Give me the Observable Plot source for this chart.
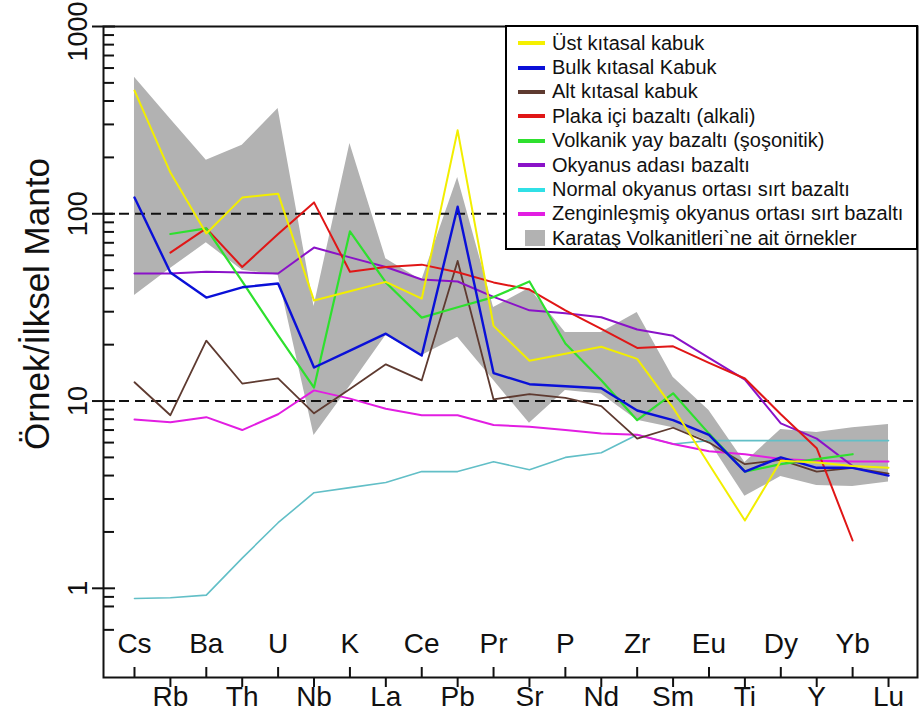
<!DOCTYPE html>
<html>
<head>
<meta charset="utf-8">
<script src="https://cdn.jsdelivr.net/npm/d3@7"></script>
<script src="https://cdn.jsdelivr.net/npm/@observablehq/plot@0.6"></script>
<style>
  body { margin: 0; background: #fff; font-family: Arial, "Liberation Sans", sans-serif; }
  #wrap { position: relative; width: 920px; height: 722px; overflow: hidden; }
  #wrap svg { overflow: visible; }
  #legend {
    position: absolute; left: 505px; top: 25px; width: 413px; height: 225px;
    box-sizing: border-box; border: 2px solid #000; background: #fff;
    padding-top: 4px; font-size: 20px; color: #111;
  }
  .row { display: flex; align-items: center; height: 24.4px; white-space: nowrap; }
  .sw { display: inline-block; width: 27px; height: 4px; margin-left: 11px; margin-right: 7px; }
  .swg { display: inline-block; width: 20px; height: 16px; margin-left: 18px; margin-right: 7px; background: #b2b2b2; }
</style>
</head>
<body>
<div id="wrap"></div>
<script>
// ---- data ----
const elements = ["Cs","Rb","Ba","Th","U","Nb","K","La","Ce","Pb","Pr","Sr","P","Nd","Zr","Sm","Eu","Ti","Dy","Y","Yb","Lu"];

const ustKabuk    = [455,166,78.5,122,128,34.4,38.6,43.3,35.2,279,25.2,16.4,17.9,19.5,16.8,9.2,4.6,2.3,4.8,4.7,4.5,4.4];
const bulkKabuk   = [122,48.6,35.7,40.5,42.4,15.1,18.6,22.9,17.5,109,14.1,12.3,12.0,11.7,8.9,7.9,6.6,4.2,5.0,4.4,4.4,4.0];
const altKabuk    = [12.6,8.4,21,12.4,13.2,8.6,11.6,15.7,12.9,56,10.2,10.9,10.4,9.4,6.3,7.2,6.0,4.6,4.85,4.2,4.4,4.1];
const plakaIci    = [null,62,83.5,52,78,115,49,52,53.5,48.7,43,39.4,30.5,24.3,19.2,19.6,16,13.2,8.5,5.6,1.8,null];
const volkanikYay = [null,78,83.5,43.5,22.4,11.8,80.5,43,27.9,31.7,35.9,43.5,20.3,12.9,7.9,11,6.7,4.2,4.6,4.9,5.2,null];
const okyanusAda  = [48,48,49,48.5,48,66,58.5,52,44.6,43.5,36,30.5,29.4,28,24.1,22.3,17,13,7.6,6.3,4.5,null];
const nMorb       = [0.883,0.89,0.92,1.45,2.24,3.24,3.45,3.67,4.2,4.2,4.74,4.3,5.0,5.3,6.6,5.9,6.15,6.15,6.15,6.15,6.15,6.15];
const eMorb       = [7.97,7.7,8.2,7.0,8.5,11.4,10.3,9.1,8.4,8.4,7.45,7.3,7.0,6.7,6.6,5.9,5.4,5.2,4.9,4.8,4.75,4.75];
const bandUpper   = [535,321,193,232,365,32,237,57.6,44,156,31.6,40,23.2,23.2,29.7,13.4,8.9,4.7,7.05,6.8,7.2,7.5];
const bandLower   = [36.6,51,70,50,47,6.55,12,22.4,17.5,21.9,12.9,7.6,11.4,10.9,7.9,7.2,6.1,3.1,3.95,3.54,3.5,3.7];

const legendNames = [
  "Üst kıtasal kabuk",
  "Bulk kıtasal Kabuk",
  "Alt kıtasal kabuk",
  "Plaka içi bazaltı (alkali)",
  "Volkanik yay bazaltı (şoşonitik)",
  "Okyanus adası bazaltı",
  "Normal okyanus ortası sırt bazaltı",
  "Zenginleşmiş okyanus ortası sırt bazaltı"
];
const bandName = "Karataş Volkanitleri`ne ait örnekler";
const yTitle = "Örnek/İlksel Manto";
const lineColors = ["#f2ee00","#0a10d8","#5e3a30","#e01616","#2ee02e","#8a12c8","#62bfc7","#e21ee2"];
const legendColors = ["#f5f000","#0a10d8","#5e3a30","#e01616","#2ee02e","#8a12c8","#30e0e6","#e21ee2"];
const lineWidths = [2, 2.4, 1.8, 2, 2.2, 2, 1.6, 2];
const seriesValues = [ustKabuk, bulkKabuk, altKabuk, plakaIci, volkanikYay, okyanusAda, nMorb, eMorb];
const drawOrder = [6, 7, 2, 5, 3, 4, 1, 0];

const yTickLabels = [1, 10, 100, 1000];
const minorTicks = [0.6, 0.8, 0.9, 2,3,4,5,6,7,8,9, 20,30,40,50,60,70,80,90, 200,300,400,500,600,700,800,900];
const dashedLevels = [10, 100];

// ---- chart ----
const W = 920, H = 722;
const mL = 103, mR = 3, mT = 26, mB = 45;
const frameH = H - mT - mB, frameW = W - mL - mR;

const idx = elements.map((_, i) => i);
const topIdx = idx.filter(i => i % 2 === 0);
const botIdx = idx.filter(i => i % 2 === 1);
const band = idx.map(i => ({i, lo: bandLower[i], hi: bandUpper[i]}));

const lineMarks = drawOrder.map(k =>
  Plot.lineY(seriesValues[k], {x: (d, i) => i, y: d => d, stroke: lineColors[k], strokeWidth: lineWidths[k]})
);

const chart = Plot.plot({
  width: W, height: H,
  marginLeft: mL, marginRight: mR, marginTop: mT, marginBottom: mB,
  style: {fontFamily: "Arial, 'Liberation Sans', sans-serif", background: "white"},
  x: {type: "linear", domain: [-0.863, 21.807], axis: null},
  y: {type: "log", domain: [0.334, 1000], axis: null},
  marks: [
    Plot.areaY(band, {x: "i", y1: "lo", y2: "hi", fill: "#b2b2b2"}),
    Plot.ruleY(dashedLevels, {stroke: "#111", strokeWidth: 2, strokeDasharray: "10,6"}),
    ...lineMarks,
    Plot.frame({stroke: "#111", strokeWidth: 2}),
    // x ticks: inward for upper labels, outward for lower labels
    Plot.ruleX(topIdx, {x: d => d, stroke: "#111", strokeWidth: 2, insetTop: frameH - 10}),
    Plot.ruleX(botIdx, {x: d => d, stroke: "#111", strokeWidth: 2, insetTop: frameH, insetBottom: -10}),
    Plot.text(topIdx, {x: d => d, text: d => elements[d], frameAnchor: "bottom", dy: -25, fontSize: 28, fill: "#111"}),
    Plot.text(botIdx, {x: d => d, text: d => elements[d], frameAnchor: "bottom", dy: 28, fontSize: 28, fill: "#111"}),
    // y ticks
    Plot.ruleY(yTickLabels, {y: d => d, stroke: "#111", strokeWidth: 2, insetLeft: -11, insetRight: frameW - 12}),
    Plot.ruleY(minorTicks, {y: d => d, stroke: "#111", strokeWidth: 2, insetRight: frameW - 11}),
    Plot.text(yTickLabels.filter(d => d < 1000), {y: d => d, text: d => String(d), frameAnchor: "left", textAnchor: "middle", dx: -25, rotate: -90, fontSize: 27, fill: "#111"}),
    Plot.text(yTickLabels.filter(d => d >= 1000), {y: d => d, text: d => String(d), frameAnchor: "left", textAnchor: "middle", dx: -25, dy: 5, rotate: -90, fontSize: 27, fill: "#111"}),
    Plot.text([yTitle], {text: d => d, frameAnchor: "left", textAnchor: "middle", dx: -66, dy: -48, rotate: -90, fontSize: 35, fill: "#111"})
  ]
});

const wrap = document.getElementById("wrap");
wrap.appendChild(chart);

// legend (HTML overlay)
const leg = document.createElement("div");
leg.id = "legend";
legendNames.forEach((name, k) => {
  const r = document.createElement("div");
  r.className = "row";
  const s = document.createElement("span");
  s.className = "sw";
  s.style.background = legendColors[k];
  r.appendChild(s);
  r.appendChild(document.createTextNode(name));
  leg.appendChild(r);
});
const rb = document.createElement("div");
rb.className = "row";
const g = document.createElement("span");
g.className = "swg";
rb.appendChild(g);
rb.appendChild(document.createTextNode(bandName));
leg.appendChild(rb);
wrap.appendChild(leg);
</script>
</body>
</html>
